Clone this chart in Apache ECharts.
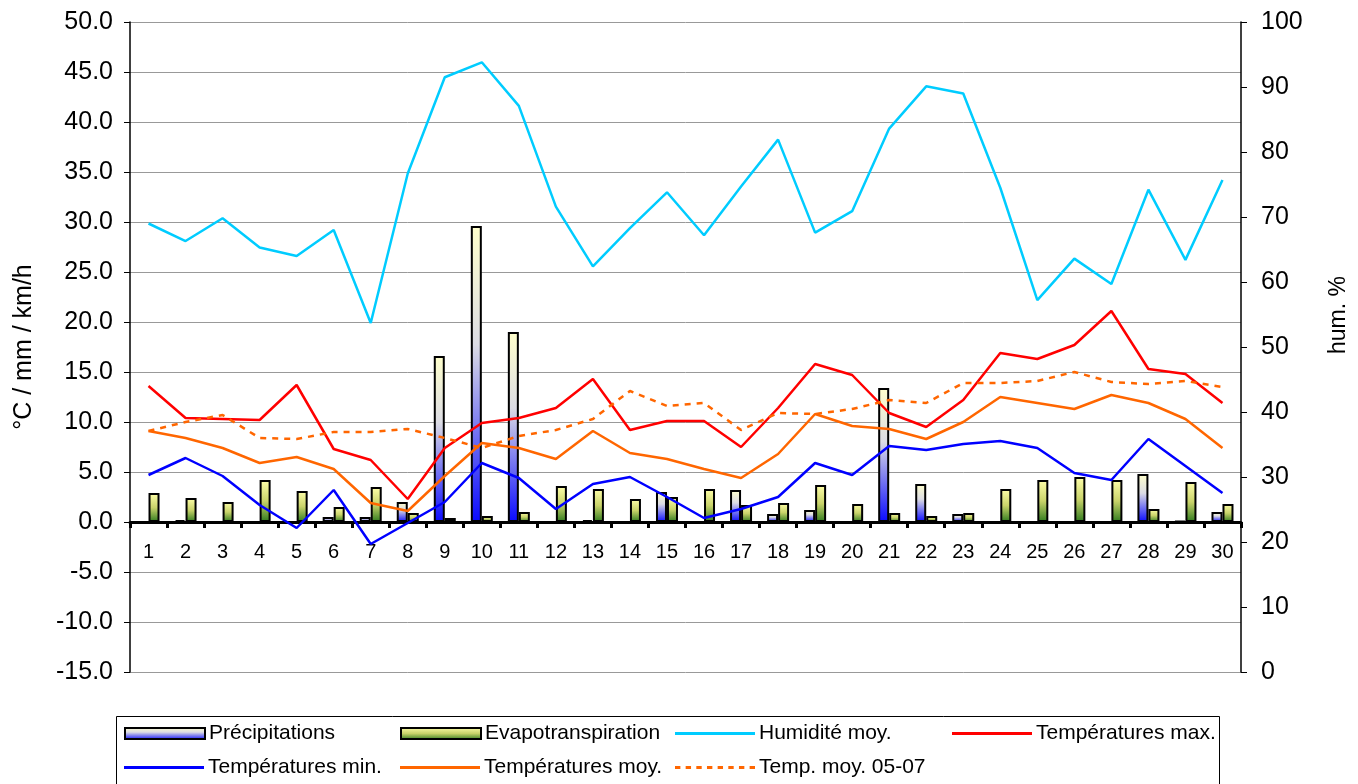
<!DOCTYPE html>
<html><head><meta charset="utf-8">
<script src="https://cdn.jsdelivr.net/npm/echarts@6/dist/echarts.min.js"></script>
<style>html,body{margin:0;padding:0;background:#fff}#c{width:1358px;height:784px}</style>
</head><body><div id="c"></div><script>
const days = ['1','2','3','4','5','6','7','8','9','10','11','12','13','14','15','16','17','18','19','20','21','22','23','24','25','26','27','28','29','30'];
const precipitations = [0, 0.2, 0, 0, 0, 0.5, 0.5, 2.0, 16.6, 29.6, 19.0, 0, 0.2, 0, 3.0, 0, 3.2, 0.8, 1.2, 0, 13.4, 3.8, 0.8, 0, 0, 0, 0, 4.8, 0.1, 1.0];
const evapotranspiration = [2.9, 2.4, 2.0, 4.2, 3.1, 1.5, 3.5, 0.9, 0.4, 0.6, 1.0, 3.6, 3.3, 2.3, 2.5, 3.3, 1.7, 1.9, 3.7, 1.8, 0.9, 0.6, 0.9, 3.3, 4.2, 4.5, 4.2, 1.3, 4.0, 1.8];
const humidite = [69.0, 66.3, 69.8, 65.3, 64.0, 68.0, 53.7, 76.7, 91.5, 93.8, 87.1, 71.6, 62.4, 68.3, 73.8, 67.2, 74.7, 81.9, 67.6, 70.9, 83.6, 90.1, 89.0, 74.5, 57.2, 63.6, 59.7, 74.2, 63.4, 75.7];
const tempMax = [13.6, 10.4, 10.3, 10.2, 13.7, 7.3, 6.2, 2.3, 7.4, 9.9, 10.4, 11.4, 14.3, 9.2, 10.1, 10.1, 7.5, 11.4, 15.8, 14.7, 10.9, 9.5, 12.2, 16.9, 16.3, 17.7, 21.1, 15.3, 14.8, 11.9];
const tempMin = [4.7, 6.4, 4.6, 1.7, -0.6, 3.2, -2.2, -0.1, 2.0, 5.9, 4.4, 1.3, 3.8, 4.5, 2.5, 0.4, 1.3, 2.5, 5.9, 4.7, 7.6, 7.2, 7.8, 8.1, 7.4, 4.9, 4.2, 8.3, 5.6, 2.9];
const tempMoy = [9.1, 8.4, 7.4, 5.9, 6.5, 5.3, 1.9, 1.1, 4.6, 7.9, 7.4, 6.3, 9.1, 6.9, 6.3, 5.3, 4.4, 6.8, 10.8, 9.6, 9.3, 8.3, 10.0, 12.5, 11.9, 11.3, 12.7, 11.9, 10.3, 7.4];
const tempMoy0507 = [9.1, 10.0, 10.7, 8.4, 8.3, 9.0, 9.0, 9.3, 8.4, 7.4, 8.6, 9.2, 10.3, 13.1, 11.6, 11.9, 9.2, 10.9, 10.8, 11.3, 12.2, 11.9, 13.9, 13.9, 14.1, 15.0, 14.0, 13.8, 14.1, 13.5];
const leftTicks = {min: -15, max: 50, interval: 5};
const rightTicks = {min: 0, max: 100, interval: 10};
const names = ['Précipitations','Evapotranspiration','Humidité moy.','Températures max.','Températures min.','Températures moy.','Temp. moy. 05-07'];

const F = '"Liberation Sans", Arial, sans-serif';
const precipGrad = new echarts.graphic.LinearGradient(0,0,0,1,[{offset:0,color:'#FFFFCC'},{offset:0.4,color:'#DCDCE4'},{offset:1,color:'#0A0AFF'}]);
const evapGrad = new echarts.graphic.LinearGradient(0,0,0,1,[{offset:0,color:'#FFFFAA'},{offset:0.5,color:'#C9D36A'},{offset:1,color:'#2F7A1E'}]);
const lineColors = ['#00CCFF','#FF0000','#0000FF','#FF6600','#FF6600'];

// legend icons
const solidIcon = 'path://M0,0h80v3h-80z';
let dashParts = '';
for (let k = 0; k < 8; k++) { const x0 = (k * 10.7).toFixed(1); dashParts += 'M' + x0 + ',0h5.4v3h-5.4z'; }
const dashIcon = 'path://' + dashParts;

const legPos = [[124,723],[400,723],[675,723],[952,723],[124,757],[400,757],[675,757]];
const legends = names.map((n,i)=>{
  const isBar = i < 2;
  const c = isBar ? null : lineColors[i-2];
  return {
    left:legPos[i][0], top:legPos[i][1], padding:0, itemWidth:80, itemHeight: isBar?11:3, itemGap:0,
    textStyle:{fontFamily:F,fontSize:21,color:'#000',padding:[0,0,0,-1]},
    selectedMode:false,
    data:[ isBar ? {name:n, icon:'rect'} :
      {name:n, icon: i===6 ? dashIcon : solidIcon, itemStyle:{color:c, borderWidth:0}} ]
  };
});

const lineS = (name,data,color,yIdx,type)=>({
  name, type:'line', data, yAxisIndex:yIdx, symbol:'none', showSymbol:false,
  lineStyle:{color, width:2.5, type: type||'solid'}, itemStyle:{color}, z:3
});

const option = {
  animation:false,
  backgroundColor:'#fff',
  grid:{left:130,right:117,top:22,bottom:112,containLabel:false},
  legend: legends,
  graphic:[{type:'rect',shape:{x:116.5,y:716.5,width:1103,height:90},style:{fill:'#fff',stroke:'#000',lineWidth:1},z:-1}],
  xAxis:{type:'category',data:days,boundaryGap:true,position:'bottom',offset:-150,
    axisLine:{onZero:false,lineStyle:{color:'#000',width:3}},
    axisTick:{show:true,length:6,lineStyle:{color:'#000',width:3}},
    axisLabel:{fontFamily:F,fontSize:20,color:'#000',margin:20},
    splitLine:{show:false}},
  yAxis:[
    {type:'value',min:leftTicks.min,max:leftTicks.max,interval:leftTicks.interval,position:'left',
     name:'°C / mm / km/h',nameLocation:'middle',nameGap:93,nameTextStyle:{fontFamily:F,fontSize:25,color:'#000'},
     axisLine:{show:true,lineStyle:{color:'#000',width:1.5}},
     axisTick:{show:true,length:6,lineStyle:{color:'#000'}},
     axisLabel:{fontFamily:F,fontSize:25,color:'#000',margin:17,formatter:v=>v.toFixed(1)},
     splitLine:{show:true,lineStyle:{color:'#999',width:1}}},
    {type:'value',min:rightTicks.min,max:rightTicks.max,interval:rightTicks.interval,position:'right',
     name:'hum. %',nameLocation:'middle',nameGap:86,nameTextStyle:{fontFamily:F,fontSize:23,color:'#000',padding:[0,0,0,64]},
     axisLine:{show:true,lineStyle:{color:'#000',width:1.5}},
     axisTick:{show:true,length:6,lineStyle:{color:'#000'}},
     axisLabel:{fontFamily:F,fontSize:25,color:'#000',margin:20},
     splitLine:{show:false}}
  ],
  series:[
    {name:names[0],type:'bar',data:precipitations,yAxisIndex:0,barWidth:11,barGap:'0%',
     itemStyle:{color:precipGrad,borderColor:'#000',borderWidth:2},z:2},
    {name:names[1],type:'bar',data:evapotranspiration,yAxisIndex:0,barWidth:11,barGap:'0%',
     itemStyle:{color:evapGrad,borderColor:'#000',borderWidth:2},z:2},
    lineS(names[2],humidite,lineColors[0],1),
    lineS(names[3],tempMax,lineColors[1],0),
    lineS(names[4],tempMin,lineColors[2],0),
    lineS(names[5],tempMoy,lineColors[3],0),
    lineS(names[6],tempMoy0507,lineColors[4],0,[6,6])
  ]
};
const chart = echarts.init(document.getElementById('c'));
chart.setOption(option);
</script></body></html>
